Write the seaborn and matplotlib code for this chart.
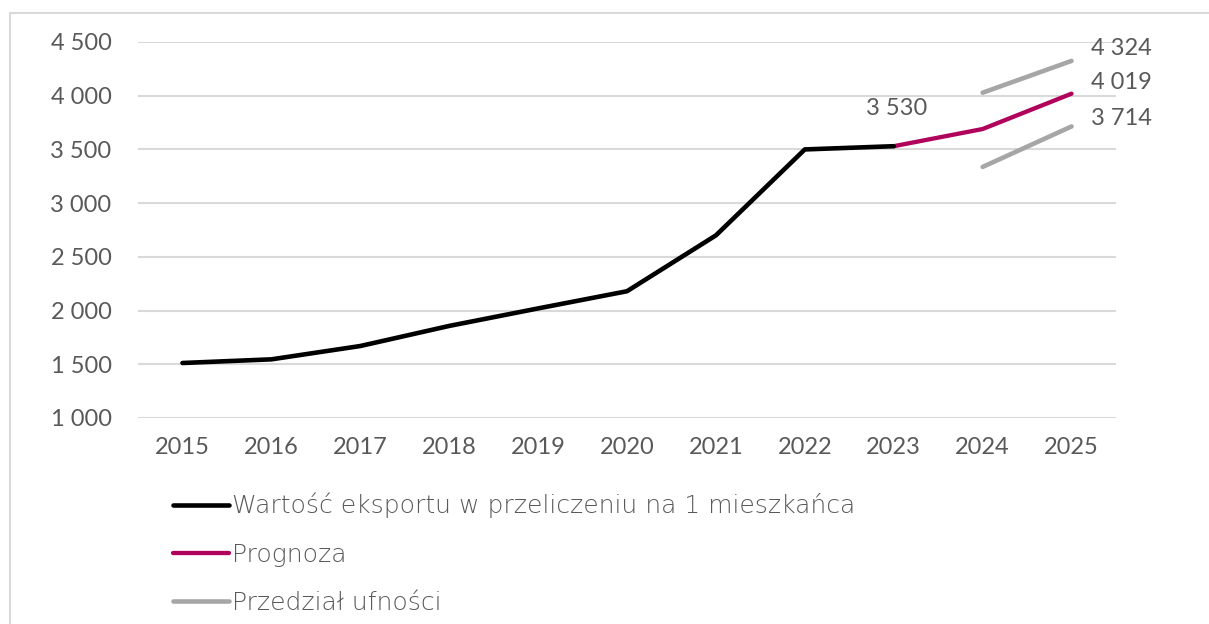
import matplotlib
matplotlib.use('Agg')
import matplotlib.pyplot as plt
import matplotlib.ticker as mticker
from matplotlib.lines import Line2D
from matplotlib.patches import Rectangle
import pandas as pd
import seaborn as sns

# data
years = [2015, 2016, 2017, 2018, 2019, 2020, 2021, 2022, 2023]
export_values = [1512, 1546, 1670, 1857, 2020, 2180, 2700, 3500, 3530]
forecast_years = [2023, 2024, 2025]
forecast_values = [3530, 3690, 4019]
ci_years = [2024, 2025]
ci_upper = [4028, 4324]
ci_lower = [3337, 3714]
all_years = list(range(2015, 2026))

labels = ['Wartość eksportu w przeliczeniu na 1 mieszkańca', 'Prognoza', 'Przedział ufności']

TXT = '#595959'
GRID = '#D9D9D9'
BLACK = '#000000'
MAGENTA = '#B0045C'
GRAY = '#A6A6A6'

sns.set_theme(style='white')
plt.rcParams['font.family'] = ['Lato', 'DejaVu Sans']
plt.rcParams['font.size'] = 17

fig = plt.figure(figsize=(12.09, 6.24), dpi=100)
ax = fig.add_axes([138/1209, 1 - 418/624, (1116 - 138)/1209, (418 - 42)/624])

df_hist = pd.DataFrame({'year': years, 'value': export_values})
df_fc = pd.DataFrame({'year': forecast_years, 'value': forecast_values})
df_up = pd.DataFrame({'year': ci_years, 'value': ci_upper})
df_lo = pd.DataFrame({'year': ci_years, 'value': ci_lower})

line_kw = dict(solid_capstyle='round', solid_joinstyle='round')
sns.lineplot(data=df_up, x='year', y='value', ax=ax, color=GRAY, lw=3.3, **line_kw)
sns.lineplot(data=df_lo, x='year', y='value', ax=ax, color=GRAY, lw=3.3, **line_kw)
sns.lineplot(data=df_fc, x='year', y='value', ax=ax, color=MAGENTA, lw=3.1, **line_kw)
sns.lineplot(data=df_hist, x='year', y='value', ax=ax, color=BLACK, lw=3.3, **line_kw)

ax.set_xlim(2014.5, 2025.5)
ax.set_ylim(1000, 4500)
ax.set_yticks(range(1000, 4501, 500))
ax.set_xticks(all_years)
ax.yaxis.set_major_formatter(mticker.FuncFormatter(lambda v, p: f'{v:,.0f}'.replace(',', ' ')))
ax.grid(axis='y', color=GRID, lw=1.5)
ax.grid(axis='x', visible=False)
ax.set_axisbelow(True)
for s in ax.spines.values():
    s.set_visible(False)
ax.tick_params(axis='y', length=0, pad=19, labelcolor=TXT, labelsize=17)
ax.tick_params(axis='x', length=0, pad=14, labelcolor=TXT, labelsize=17)
ax.set_xlabel('')
ax.set_ylabel('')

def fmt(v):
    return f'{v:,.0f}'.replace(',', ' ')

# data labels
ax.annotate(fmt(forecast_values[0]), (forecast_years[0], forecast_values[0]), xytext=(2, 27),
            textcoords='offset points', ha='center', va='center', color=TXT, fontsize=17)
for val, dy in [(ci_upper[-1], 9), (forecast_values[-1], 8), (ci_lower[-1], 6)]:
    ax.annotate(fmt(val), (ci_years[-1], val), xytext=(14, dy), textcoords='offset points',
                ha='left', va='center', color=TXT, fontsize=17)

handles = [Line2D([], [], color=BLACK, lw=3.3, solid_capstyle='round'),
           Line2D([], [], color=MAGENTA, lw=3.1, solid_capstyle='round'),
           Line2D([], [], color=GRAY, lw=3.3, solid_capstyle='round')]
fig.legend(handles, labels, loc='upper left', bbox_to_anchor=(173/1209, 1 - 493/624),
           frameon=False, borderpad=0, borderaxespad=0, handlelength=2.25,
           handletextpad=0.12, labelspacing=0.97, labelcolor=TXT,
           prop={'family': ['DejaVu Sans'], 'size': 18, 'weight': 'light'})

fig.add_artist(Rectangle((10/1209, -0.1), 1.5, 1 - 13/624 + 0.1, transform=fig.transFigure,
                         fill=False, edgecolor=GRID, lw=1.5, clip_on=False))

plt.savefig('out.png', dpi=100)
